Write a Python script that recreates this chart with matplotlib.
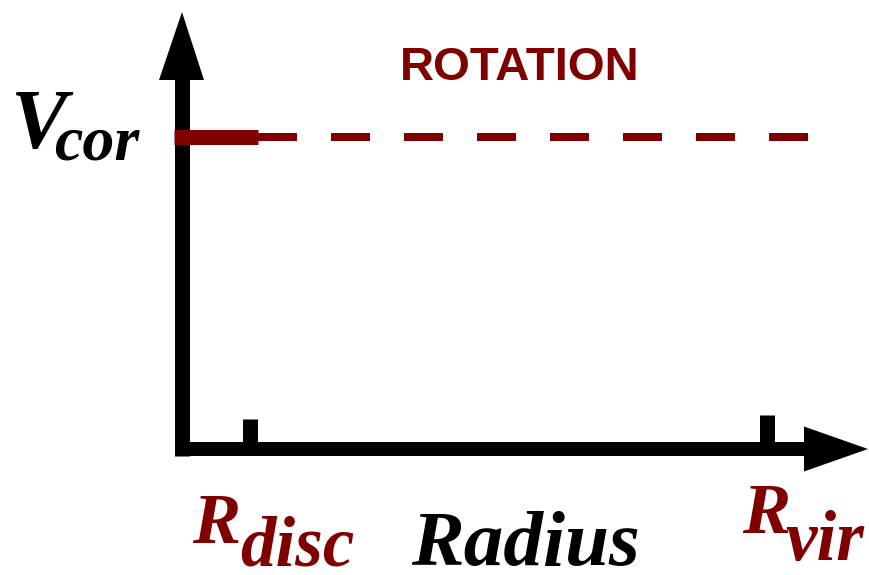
import matplotlib
matplotlib.use("Agg")
from matplotlib import pyplot as plt

# schematic units: origin of the axes at (0, 0), one unit = one pixel
tick_r = [68, 585]            # R_disc, R_vir
tick_height = [31, 35]
tick_names = ["disc", "vir"]
v_cor = 313
solid_r = [-8, 76]            # flat part inside the disc
dashed_r = [76, 626]          # flat part out to R_vir

DARKRED = "#800000"
SERIF = "Liberation Serif"

fig = plt.figure(figsize=(8.69, 5.75), dpi=100)
ax = fig.add_axes([0, 0, 1, 1])
ax.set_xlim(-182, 687)
ax.set_ylim(-125, 450)
ax.axis("off")

px = 72 / 100  # points per pixel

# axes shafts
ax.plot([-0.5, -0.5], [-6, 372], color="black", lw=15 * px, solid_capstyle="butt")
ax.plot([-7, 624], [1, 1], color="black", lw=14 * px, solid_capstyle="butt")
# arrow heads
ax.fill([-23, 22, 0], [370, 370, 438], color="black", lw=0)
ax.fill([622, 622, 686], [23.5, -21.5, 1], color="black", lw=0)

# ticks
for r, h in zip(tick_r, tick_height):
    ax.plot([r, r], [1, h], color="black", lw=15 * px, solid_capstyle="butt")

# rotation curve
ax.plot(solid_r, [v_cor, v_cor], color=DARKRED, lw=15 * px, solid_capstyle="butt")
ax.plot(dashed_r, [v_cor, v_cor], color=DARKRED, lw=8 * px,
        dashes=(39 / 8, 34 / 8), dash_capstyle="butt")

# labels
ax.text(218, 370, "ROTATION", color=DARKRED, fontsize=34, fontweight="bold",
        family="Liberation Sans", va="baseline", ha="left")
ax.text(-172, 302, "V", color="black", fontsize=61, fontweight="bold",
        style="italic", family=SERIF, va="baseline", ha="left")
ax.text(-128, 290, "cor", color="black", fontsize=46, fontweight="bold",
        style="italic", family=SERIF, va="baseline", ha="left")
ax.text(229, -115, "Radius", color="black", fontsize=57, fontweight="bold",
        style="italic", family=SERIF, va="baseline", ha="left")

sub_pos = [(10, -93, 58, -115), (560, -83, 603, -110)]
for name, (rx, ry, sx, sy) in zip(tick_names, sub_pos):
    ax.text(rx, ry, "R", color=DARKRED, fontsize=52, fontweight="bold",
            style="italic", family=SERIF, va="baseline", ha="left")
    ax.text(sx, sy, name, color=DARKRED, fontsize=51, fontweight="bold",
            style="italic", family=SERIF, va="baseline", ha="left")

fig.savefig("out.png", dpi=100)
